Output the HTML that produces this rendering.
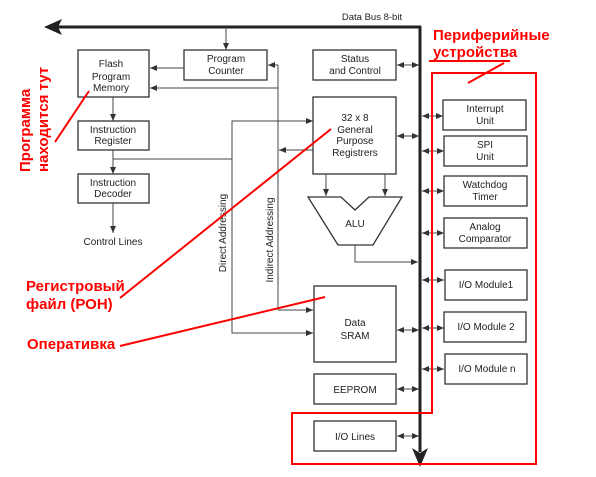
<!DOCTYPE html>
<html><head><meta charset="utf-8"><style>
html,body{margin:0;padding:0;background:#fff;width:596px;height:477px;overflow:hidden}
svg{display:block}
.b{fill:#fff;stroke:#333;stroke-width:1.3}
.t{font-family:"Liberation Sans",sans-serif;font-size:10px;fill:#222;text-anchor:middle}
.l{stroke:#444;stroke-width:1;fill:none}
.r{font-family:"Liberation Sans","Noto Sans CJK SC",sans-serif;font-size:15px;font-weight:bold;fill:#f00}
.rl{stroke:#f00;stroke-width:2;fill:none}
</style></head><body>
<svg width="596" height="477" viewBox="0 0 596 477">
<defs>
<marker id="a" markerWidth="7" markerHeight="6" refX="7" refY="3" orient="auto" markerUnits="userSpaceOnUse"><path d="M0,0L7,3L0,6z" fill="#333"/></marker>
<marker id="s" markerWidth="7" markerHeight="6" refX="0" refY="3" orient="auto" markerUnits="userSpaceOnUse"><path d="M7,0L0,3L7,6z" fill="#333"/></marker>
</defs>
<!-- bus -->
<line x1="58" y1="27" x2="421" y2="27" stroke="#222" stroke-width="3"/>
<path d="M44,27L62,19L58,27L62,35z" fill="#222"/>
<line x1="420" y1="26" x2="420" y2="452" stroke="#222" stroke-width="3"/>
<path d="M420,467L412,448L420,453L428,448z" fill="#222"/>
<text class="t" x="372" y="20" style="font-size:9.5px">Data Bus 8-bit</text>

<!-- left column -->
<rect class="b" x="78" y="50" width="71" height="47"/>
<text class="t" x="111" y="67">Flash</text><text class="t" x="111" y="80">Program</text><text class="t" x="111" y="91">Memory</text>
<rect class="b" x="184" y="50" width="83" height="30"/>
<text class="t" x="226" y="62">Program</text><text class="t" x="226" y="74">Counter</text>
<line class="l" x1="226" y1="27" x2="226" y2="50" marker-end="url(#a)"/>
<line class="l" x1="184" y1="68" x2="150" y2="68" marker-end="url(#a)"/>
<rect class="b" x="78" y="121" width="71" height="29"/>
<text class="t" x="113" y="133">Instruction</text><text class="t" x="113" y="144">Register</text>
<rect class="b" x="78" y="174" width="71" height="29"/>
<text class="t" x="113" y="186">Instruction</text><text class="t" x="113" y="197">Decoder</text>
<line class="l" x1="113" y1="97" x2="113" y2="121" marker-end="url(#a)"/>
<line class="l" x1="113" y1="150" x2="113" y2="174" marker-end="url(#a)"/>
<line class="l" x1="113" y1="203" x2="113" y2="233" marker-end="url(#a)"/>
<text class="t" x="113" y="245">Control Lines</text>
<line class="l" x1="113" y1="159" x2="232" y2="159"/>

<!-- addressing -->
<polyline class="l" points="313,333 232,333 232,121 312,121"/>
<line class="l" x1="290" y1="121" x2="313" y2="121" marker-end="url(#a)"/>
<line class="l" x1="232" y1="333" x2="313" y2="333" marker-end="url(#a)"/>
<polyline class="l" points="278,310 278,65"/>
<line class="l" x1="278" y1="65" x2="268" y2="65" marker-end="url(#a)"/>
<line class="l" x1="278" y1="88" x2="150" y2="88" marker-end="url(#a)"/>
<line class="l" x1="278" y1="310" x2="313" y2="310" marker-end="url(#a)"/>
<line class="l" x1="313" y1="150" x2="279" y2="150" marker-end="url(#a)"/>
<text class="t" transform="translate(226,233) rotate(-90)">Direct Addressing</text>
<text class="t" transform="translate(273,240) rotate(-90)">Indirect Addressing</text>

<!-- center column -->
<rect class="b" x="313" y="50" width="83" height="30"/>
<text class="t" x="355" y="62">Status</text><text class="t" x="355" y="74">and Control</text>
<line class="l" x1="397" y1="65" x2="419" y2="65" marker-start="url(#s)" marker-end="url(#a)"/>
<rect class="b" x="313" y="97" width="83" height="77"/>
<text class="t" x="355" y="121">32 x 8</text><text class="t" x="355" y="133">General</text><text class="t" x="355" y="144">Purpose</text><text class="t" x="355" y="156">Registrers</text>
<line class="l" x1="397" y1="136" x2="419" y2="136" marker-start="url(#s)" marker-end="url(#a)"/>
<line class="l" x1="326" y1="174" x2="326" y2="196" marker-end="url(#a)"/>
<line class="l" x1="385" y1="174" x2="385" y2="196" marker-end="url(#a)"/>
<path class="b" d="M308,197L341,197L355,210L369,197L402,197L373,245L338,245z"/>
<text class="t" x="355" y="227">ALU</text>
<polyline class="l" points="355,245 355,262 418,262" marker-end="url(#a)"/>
<rect class="b" x="314" y="286" width="82" height="76"/>
<text class="t" x="355" y="326">Data</text><text class="t" x="355" y="339">SRAM</text>
<line class="l" x1="397" y1="330" x2="419" y2="330" marker-start="url(#s)" marker-end="url(#a)"/>
<rect class="b" x="314" y="374" width="82" height="30"/>
<text class="t" x="355" y="393">EEPROM</text>
<line class="l" x1="397" y1="389" x2="419" y2="389" marker-start="url(#s)" marker-end="url(#a)"/>
<rect class="b" x="314" y="421" width="82" height="30"/>
<text class="t" x="355" y="440">I/O Lines</text>
<line class="l" x1="397" y1="436" x2="419" y2="436" marker-start="url(#s)" marker-end="url(#a)"/>

<!-- right column -->
<g>
<rect class="b" x="443" y="100" width="83" height="30"/><text class="t" x="485" y="112">Interrupt</text><text class="t" x="485" y="124">Unit</text>
<line class="l" x1="422" y1="116" x2="443" y2="116" marker-start="url(#s)" marker-end="url(#a)"/>
<rect class="b" x="444" y="136" width="83" height="30"/><text class="t" x="485" y="148">SPI</text><text class="t" x="485" y="160">Unit</text>
<line class="l" x1="422" y1="151" x2="444" y2="151" marker-start="url(#s)" marker-end="url(#a)"/>
<rect class="b" x="444" y="176" width="83" height="30"/><text class="t" x="485" y="188">Watchdog</text><text class="t" x="485" y="200">Timer</text>
<line class="l" x1="422" y1="191" x2="444" y2="191" marker-start="url(#s)" marker-end="url(#a)"/>
<rect class="b" x="444" y="218" width="83" height="30"/><text class="t" x="485" y="230">Analog</text><text class="t" x="485" y="242">Comparator</text>
<line class="l" x1="422" y1="233" x2="444" y2="233" marker-start="url(#s)" marker-end="url(#a)"/>
<rect class="b" x="445" y="270" width="82" height="30"/><text class="t" x="486" y="288">I/O Module1</text>
<line class="l" x1="422" y1="280" x2="444" y2="280" marker-start="url(#s)" marker-end="url(#a)"/>
<rect class="b" x="444" y="312" width="82" height="30"/><text class="t" x="486" y="330">I/O Module 2</text>
<line class="l" x1="422" y1="328" x2="444" y2="328" marker-start="url(#s)" marker-end="url(#a)"/>
<rect class="b" x="445" y="354" width="82" height="30"/><text class="t" x="487" y="372">I/O Module n</text>
<line class="l" x1="422" y1="369" x2="444" y2="369" marker-start="url(#s)" marker-end="url(#a)"/>
</g>

<!-- red annotations -->
<path class="rl" d="M432,73L536,73L536,464L292,464L292,413L432,413z"/>
<line class="rl" x1="429" y1="61" x2="510" y2="61"/>
<line class="rl" x1="468" y1="83" x2="504" y2="63" stroke-width="1.5"/>
<text class="r" x="433" y="40">Периферийные</text>
<text class="r" x="433" y="57">устройства</text>
<text class="r" transform="translate(30,172) rotate(-90)">Программа</text>
<text class="r" transform="translate(48,172) rotate(-90)">находится тут</text>
<line class="rl" x1="55" y1="142" x2="89" y2="91" stroke-width="1.5"/>
<text class="r" x="26" y="291">Регистровый</text>
<text class="r" x="26" y="309">файл (РОН)</text>
<line class="rl" x1="120" y1="298" x2="331" y2="129" stroke-width="1.5"/>
<text class="r" x="27" y="349">Оперативка</text>
<line class="rl" x1="120" y1="346" x2="325" y2="297"/>
</svg>
</body></html>
